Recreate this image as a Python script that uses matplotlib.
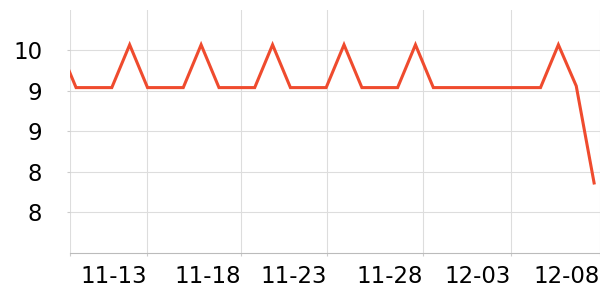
import matplotlib
matplotlib.use("Agg")
import matplotlib.pyplot as plt

dates = ["11-10", "11-11", "11-12", "11-13", "11-14", "11-15", "11-16", "11-17",
         "11-18", "11-19", "11-20", "11-21", "11-22", "11-23", "11-24", "11-25",
         "11-26", "11-27", "11-28", "11-29", "11-30", "12-01", "12-02", "12-03",
         "12-04", "12-05", "12-06", "12-07", "12-08", "12-09", "12-10"]
values = [10.07, 9.54, 9.54, 9.54, 10.07, 9.54, 9.54, 9.54,
          10.07, 9.54, 9.54, 9.54, 10.07, 9.54, 9.54, 9.54,
          10.07, 9.54, 9.54, 9.54, 10.07, 9.54, 9.54, 9.54,
          9.54, 9.54, 9.54, 9.54, 10.07, 9.56, 8.36]
x_tick_labels = ["", "11-13", "11-18", "11-23", "11-28", "12-03", "12-08"]
y_ticks = [8.0, 8.5, 9.0, 9.5, 10.0]
y_tick_labels = ["8", "8", "9", "9", "10"]

fig = plt.figure(figsize=(6, 3), dpi=100)
ax = fig.add_axes([70/600, 47.5/300, 530/600, 242.5/300])

idx = list(range(len(dates)))
ax.plot(idx, values, color="#ef4b2e", linewidth=2.2, solid_joinstyle="miter")

ax.set_xlim(0.66, 30.33)
ax.set_ylim(7.5, 10.5)

x_tick_pos = [0.66, 4.97, 10.25, 15.03, 20.43, 25.32, 30.33]
ax.set_xticks(x_tick_pos)
ax.set_xticklabels(x_tick_labels, ha="right")
ax.set_yticks(y_ticks)
ax.set_yticklabels(y_tick_labels)

ax.grid(True, color="#dddddd", linewidth=0.8)
ax.set_axisbelow(True)
for s in ["top", "right", "left"]:
    ax.spines[s].set_visible(False)
ax.spines["bottom"].set_color("#bbbbbb")
ax.spines["bottom"].set_linewidth(0.8)

ax.tick_params(axis="y", length=2, color="#cccccc", labelsize=16.5, pad=18)
ax.tick_params(axis="x", length=2, color="#cccccc", labelsize=16.5, pad=7)

fig.savefig("out.png", dpi=100)
